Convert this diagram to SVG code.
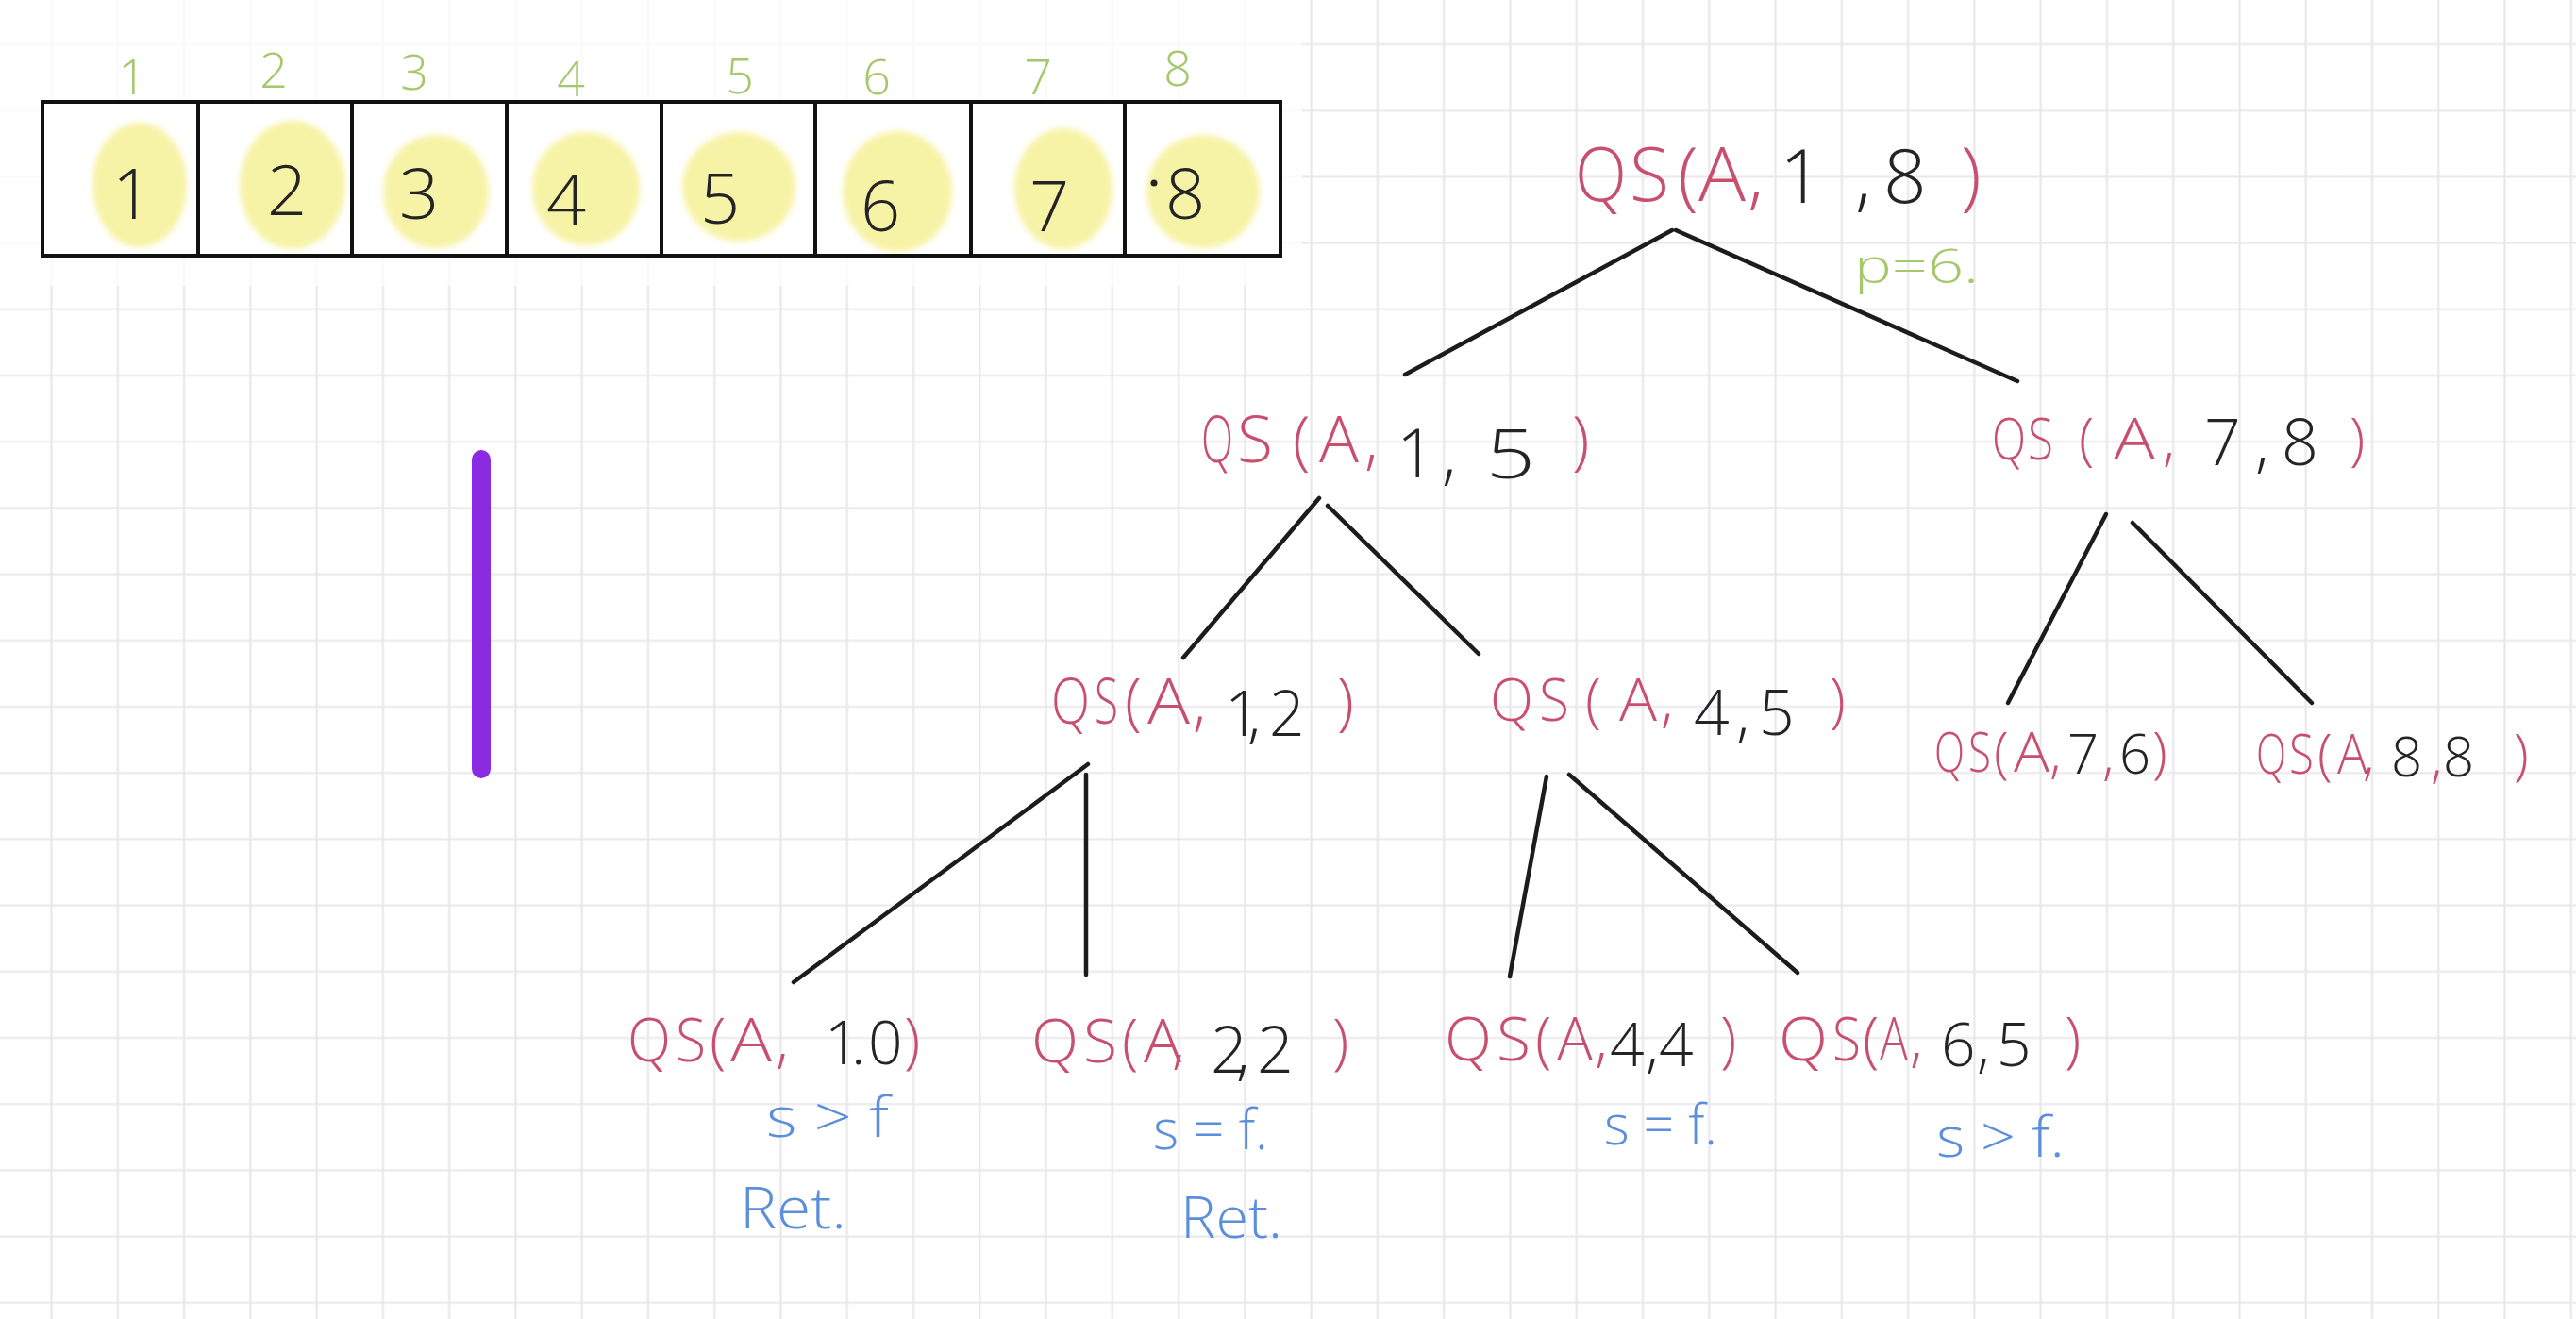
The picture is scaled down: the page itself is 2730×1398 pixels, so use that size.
<svg xmlns="http://www.w3.org/2000/svg" width="2730" height="1398" viewBox="0 0 2730 1398">
<defs>
<pattern id="grid" x="19.4" y="11.9" width="70.27" height="70.2" patternUnits="userSpaceOnUse">
<path d="M35.135 0V70.2M0 35.1H70.27" stroke="#e8e7ed" stroke-width="2.2" fill="none"/>
</pattern>
<filter id="soft" x="-20%" y="-20%" width="140%" height="140%"><feGaussianBlur stdDeviation="3"/></filter>
<style>
.t{font-family:"Open Sans","Liberation Sans",sans-serif;font-weight:300}
.r{fill:#c8506e}
.k{fill:#242424}
.b{fill:#5b8fd9}
.g{fill:#a6c86c}
.hl{fill:#f7f3a6}
.edge{stroke:#1c1c1c;stroke-width:4.5;stroke-linecap:round;fill:none}
.cell{stroke:#111;stroke-width:4;fill:none}
</style>
</defs>
<rect width="2730" height="1398" fill="#ffffff"/>
<rect width="2730" height="1398" fill="url(#grid)"/>
<rect x="0" y="0" width="1380" height="303" fill="#ffffff" opacity="0.72"/>

<g id="array">
<rect x="45" y="106" width="1312" height="167" fill="#ffffff"/>
<g filter="url(#soft)">
<ellipse class="hl" cx="148" cy="196" rx="50" ry="66"/>
<ellipse class="hl" cx="310" cy="196" rx="56" ry="68"/>
<ellipse class="hl" cx="462" cy="203" rx="56" ry="60"/>
<ellipse class="hl" cx="621" cy="200" rx="57" ry="60"/>
<ellipse class="hl" cx="783" cy="198" rx="60" ry="58"/>
<ellipse class="hl" cx="951" cy="203" rx="58" ry="64"/>
<ellipse class="hl" cx="1127" cy="200" rx="52" ry="64"/>
<ellipse class="hl" cx="1275" cy="203" rx="60" ry="60"/>
</g>
<rect class="cell" x="45" y="108" width="1312" height="163" stroke-width="5"/>
<path class="cell" d="M210 108V271M373 108V271M537 108V271M701 108V271M864 108V271M1029 108V271M1192 108V271"/>
<g class="t k" font-size="74" text-anchor="middle">
<text x="140" y="232">1</text>
<text x="304" y="228">2</text>
<text x="444" y="232">3</text>
<text x="600" y="238">4</text>
<text x="763" y="237">5</text>
<text x="933" y="245">6</text>
<text x="1112" y="245">7</text>
<text x="1256" y="232">8</text>
</g>
<circle cx="1223" cy="194" r="3.5" fill="#242424"/>
<g class="t g" font-size="52" text-anchor="middle">
<text x="140" y="100">1</text>
<text x="290" y="93">2</text>
<text x="439" y="95">3</text>
<text x="605" y="102">4</text>
<text x="784" y="99">5</text>
<text x="929" y="100">6</text>
<text x="1100" y="100">7</text>
<text x="1248" y="91">8</text>
</g>
</g>

<g id="marker-bar">
<line x1="510" y1="487" x2="510" y2="815" stroke="#8a2be2" stroke-width="20" stroke-linecap="round"/>
</g>

<g id="connectors">
<line class="edge" x1="1772" y1="244" x2="1489" y2="397"/>
<line class="edge" x1="1776" y1="244" x2="2138" y2="404"/>
<line class="edge" x1="1398" y1="528" x2="1254" y2="697"/>
<line class="edge" x1="1407" y1="536" x2="1567" y2="693"/>
<line class="edge" x1="2232" y1="545" x2="2128" y2="745"/>
<line class="edge" x1="2260" y1="554" x2="2450" y2="745"/>
<line class="edge" x1="1153" y1="810" x2="841" y2="1041"/>
<line class="edge" x1="1151" y1="821" x2="1151" y2="1033"/>
<line class="edge" x1="1639" y1="823" x2="1600" y2="1035"/>
<line class="edge" x1="1663" y1="821" x2="1905" y2="1031"/>
</g>

<g id="node-qs-1-8">
<text class="t" font-size="80"><tspan class="r" y="213" x="1669" textLength="55" lengthAdjust="spacingAndGlyphs">Q</tspan><tspan class="r" y="213" x="1727" textLength="42" lengthAdjust="spacingAndGlyphs">S</tspan><tspan class="r" y="213" x="1778">(</tspan><tspan class="r" y="213" x="1800" textLength="50" lengthAdjust="spacingAndGlyphs">A</tspan><tspan class="r" y="213" x="1852 1868">, </tspan><tspan class="k" y="215" x="1886 1935 1966">1 ,</tspan><tspan class="k" y="215" x="1996">8</tspan><tspan class="r" y="213" x="2055 2078"> )</tspan></text>
<text class="t g" font-size="50" x="1965" y="300" textLength="132" lengthAdjust="spacingAndGlyphs">p=6.</text>
</g>

<g id="node-qs-1-5">
<text class="t" font-size="68"><tspan class="r" y="490" x="1273" textLength="34" lengthAdjust="spacingAndGlyphs">Q</tspan><tspan class="r" y="490" x="1311" textLength="38" lengthAdjust="spacingAndGlyphs">S</tspan><tspan class="r" y="490" x="1370">(</tspan><tspan class="r" y="490" x="1398" textLength="42" lengthAdjust="spacingAndGlyphs">A</tspan><tspan class="r" y="490" x="1446 1458">, </tspan><tspan class="k" y="506" font-size="72" x="1480 1528 1545">1, </tspan><tspan class="k" y="507" font-size="72" x="1575" textLength="52" lengthAdjust="spacingAndGlyphs">5</tspan><tspan class="r" y="490" x="1640 1666"> )</tspan></text>
</g>

<g id="node-qs-7-8">
<text class="t" font-size="60"><tspan class="r" y="487" x="2111" textLength="36" lengthAdjust="spacingAndGlyphs">Q</tspan><tspan class="r" y="487" x="2149" textLength="27" lengthAdjust="spacingAndGlyphs">S</tspan><tspan class="r" y="487" x="2203 2220">( </tspan><tspan class="r" y="487" x="2240" textLength="44" lengthAdjust="spacingAndGlyphs">A</tspan><tspan class="r" y="487" x="2292 2310">, </tspan><tspan class="k" y="493" font-size="68" x="2336 2390 2418">7,8</tspan><tspan class="r" y="487" x="2470 2490"> )</tspan></text>
</g>

<g id="node-qs-1-2">
<text class="t" font-size="66"><tspan class="r" y="767" x="1114" textLength="41" lengthAdjust="spacingAndGlyphs">Q</tspan><tspan class="r" y="767" x="1160" textLength="25" lengthAdjust="spacingAndGlyphs">S</tspan><tspan class="r" y="767" x="1192">(</tspan><tspan class="r" y="767" x="1216" textLength="45" lengthAdjust="spacingAndGlyphs">A</tspan><tspan class="r" y="767" x="1264">,</tspan><tspan class="k" y="780" x="1298 1322 1345 1390">1,2 </tspan><tspan class="r" y="767" x="1417">)</tspan></text>
</g>

<g id="node-qs-4-5">
<text class="t" font-size="62"><tspan class="r" y="764" x="1579" textLength="46" lengthAdjust="spacingAndGlyphs">Q</tspan><tspan class="r" y="764" x="1631" textLength="32" lengthAdjust="spacingAndGlyphs">S</tspan><tspan class="r" y="764" x="1680 1700">( </tspan><tspan class="r" y="764" x="1716" textLength="40" lengthAdjust="spacingAndGlyphs">A</tspan><tspan class="r" y="764" x="1760 1780">, </tspan><tspan class="k" y="779" font-size="66" x="1795 1840 1864">4,5</tspan><tspan class="r" y="764" x="1939">)</tspan></text>
</g>

<g id="node-qs-7-6">
<text class="t" font-size="58"><tspan class="r" y="818" x="2050" textLength="32" lengthAdjust="spacingAndGlyphs">Q</tspan><tspan class="r" y="818" x="2086" textLength="24" lengthAdjust="spacingAndGlyphs">S</tspan><tspan class="r" y="818" x="2113">(</tspan><tspan class="r" y="818" x="2134" textLength="38" lengthAdjust="spacingAndGlyphs">A</tspan><tspan class="r" y="818" x="2172">,</tspan><tspan class="k" y="820" x="2191">7</tspan><tspan class="r" y="820" x="2228">,</tspan><tspan class="k" y="820" x="2246">6</tspan><tspan class="r" y="818" x="2281">)</tspan></text>
</g>

<g id="node-qs-8-8">
<text class="t" font-size="58"><tspan class="r" y="820" x="2391" textLength="32" lengthAdjust="spacingAndGlyphs">Q</tspan><tspan class="r" y="820" x="2426" textLength="26" lengthAdjust="spacingAndGlyphs">S</tspan><tspan class="r" y="820" x="2456">(</tspan><tspan class="r" y="820" x="2477" textLength="32" lengthAdjust="spacingAndGlyphs">A</tspan><tspan class="r" y="820" x="2504 2520">, </tspan><tspan class="k" y="823" x="2534">8</tspan><tspan class="r" y="823" x="2576">,</tspan><tspan class="k" y="823" x="2589 2640">8 </tspan><tspan class="r" y="820" x="2664">)</tspan></text>
</g>

<g id="node-qs-1-0">
<text class="t" font-size="64"><tspan class="r" y="1125" x="665" textLength="46" lengthAdjust="spacingAndGlyphs">Q</tspan><tspan class="r" y="1125" x="716" textLength="32" lengthAdjust="spacingAndGlyphs">S</tspan><tspan class="r" y="1125" x="752">(</tspan><tspan class="r" y="1125" x="774" textLength="44" lengthAdjust="spacingAndGlyphs">A</tspan><tspan class="r" y="1125" x="822 840">, </tspan><tspan class="k" y="1128" x="874 893 902 914 920">1 . 0</tspan><tspan class="r" y="1125" x="950 958"> )</tspan></text>
<text class="t b" font-size="58" x="812" y="1205" textLength="130" lengthAdjust="spacingAndGlyphs">s &gt; f</text>
<text class="t b" font-size="60" x="784" y="1302" textLength="113" lengthAdjust="spacingAndGlyphs">Ret.</text>
</g>

<g id="node-qs-2-2">
<text class="t" font-size="64"><tspan class="r" y="1126" x="1093" textLength="50" lengthAdjust="spacingAndGlyphs">Q</tspan><tspan class="r" y="1126" x="1148" textLength="36" lengthAdjust="spacingAndGlyphs">S</tspan><tspan class="r" y="1126" x="1189">(</tspan><tspan class="r" y="1126" x="1212" textLength="40" lengthAdjust="spacingAndGlyphs">A</tspan><tspan class="r" y="1126" x="1242 1262">, </tspan><tspan class="k" y="1137" font-size="68" x="1283 1310 1332 1390">2,2 </tspan><tspan class="r" y="1126" x="1412">)</tspan></text>
<text class="t b" font-size="58" x="1222" y="1218" textLength="122" lengthAdjust="spacingAndGlyphs">s = f.</text>
<text class="t b" font-size="60" x="1251" y="1312" textLength="108" lengthAdjust="spacingAndGlyphs">Ret.</text>
</g>

<g id="node-qs-4-4">
<text class="t" font-size="64"><tspan class="r" y="1124" x="1531" textLength="50" lengthAdjust="spacingAndGlyphs">Q</tspan><tspan class="r" y="1124" x="1586" textLength="36" lengthAdjust="spacingAndGlyphs">S</tspan><tspan class="r" y="1124" x="1627">(</tspan><tspan class="r" y="1124" x="1650" textLength="38" lengthAdjust="spacingAndGlyphs">A</tspan><tspan class="r" y="1124" x="1690">,</tspan><tspan class="k" y="1130" x="1706 1744 1758 1800">4,4 </tspan><tspan class="r" y="1124" x="1823">)</tspan></text>
<text class="t b" font-size="58" x="1700" y="1213" textLength="120" lengthAdjust="spacingAndGlyphs">s = f.</text>
</g>

<g id="node-qs-6-5">
<text class="t" font-size="64"><tspan class="r" y="1124" x="1885" textLength="52" lengthAdjust="spacingAndGlyphs">Q</tspan><tspan class="r" y="1124" x="1942" textLength="30" lengthAdjust="spacingAndGlyphs">S</tspan><tspan class="r" y="1124" x="1974">(</tspan><tspan class="r" y="1124" x="1992" textLength="30" lengthAdjust="spacingAndGlyphs">A</tspan><tspan class="r" y="1124" x="2024">,</tspan><tspan class="k" y="1130" x="2057 2095 2116 2170">6,5 </tspan><tspan class="r" y="1124" x="2188">)</tspan></text>
<text class="t b" font-size="58" x="2052" y="1226" textLength="136" lengthAdjust="spacingAndGlyphs">s &gt; f.</text>
</g>
</svg>
